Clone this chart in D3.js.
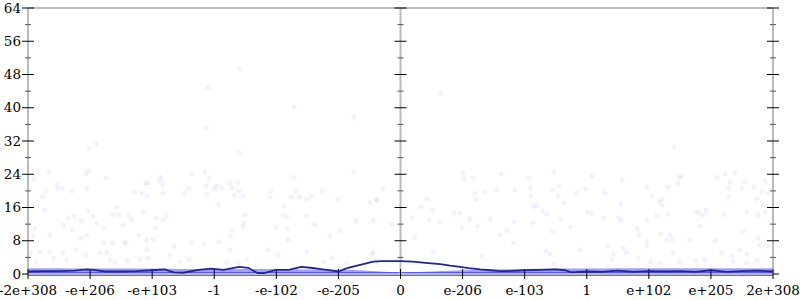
<!DOCTYPE html>
<html lang="en">
<head>
<script src="https://cdnjs.cloudflare.com/ajax/libs/d3/7.8.5/d3.min.js"></script>
<style>
  body { margin: 0; background: #fff; }
  svg { display: block; }
  text { font-family: "DejaVu Serif", serif; font-size: 13.5px; fill: #000; }
</style>
</head>
<body>
<svg width="800" height="300"></svg>
<script>
// x positions are in "tick units": -6 .. 6, one unit per labelled tick
const xTickLabels = ["-2e+308", "-e+206", "-e+103", "-1", "-e-102", "-e-205", "0",
                     "e-206", "e-103", "1", "e+102", "e+205", "2e+308"];
const yMajor = [0, 8, 16, 24, 32, 40, 48, 56, 64];
const yMinor = [4, 12, 20, 28, 36, 44, 52, 60];

// sparse samples [x, value]
const samples = [
  [-5.02,30.1],[-4.90,31.3],[-6.0,25.5],[-5.66,24.5],[-5.90,22.9],[-5.07,24.1],[-5.02,24.8],[-4.74,23.1],
  [-5.71,20.0],[-5.53,21.4],[-5.53,20.5],[-5.45,20.7],[-5.29,20.0],[-5.05,20.5],[-5.76,18.5],[-4.28,19.7],
  [-4.16,19.5],[-4.10,21.9],[-4.07,21.9],[-4.08,18.8],[-3.86,23.3],[-3.89,22.4],[-3.83,21.4],[-3.83,19.5],
  [-3.47,19.5],[-3.41,20.5],[-3.36,24.1],
  [-1.72,40.2],[-0.75,37.8],[-3.12,35.1],[-2.60,29.1],[-3.15,24.5],[-3.08,23.1],[-1.72,23.3],[-0.75,24.5],
  [-3.13,21.2],[-2.96,21.2],[-2.99,20.5],[-2.88,20.7],[-2.75,21.9],[-2.62,21.9],[-2.71,20.7],[-2.60,20.0],
  [-3.12,19.2],[-2.68,19.0],[-2.54,18.8],[-2.09,20.0],[-1.70,20.0],[-1.26,20.0],[-0.28,20.5],[-2.10,18.5],
  [-1.76,18.5],[-1.63,18.5],[-1.44,18.8],[-1.51,18.0],[-1.01,18.0],[-0.39,18.0],[-2.59,49.3],[-3.10,44.8],
  [1.01,24.3],[1.02,22.9],[1.17,23.1],[1.62,24.1],[2.07,23.1],[2.47,24.5],[3.08,23.6],[1.20,19.5],
  [1.36,19.7],[1.55,20.2],[1.84,20.2],[2.09,20.7],[2.55,21.2],[2.44,20.2],[2.83,19.5],[2.99,20.5],
  [2.10,18.8],[2.54,18.8],[0.43,18.0],[1.22,18.0],[0.64,43.5],
  [4.41,30.6],[3.57,22.6],[4.49,23.3],[4.53,23.6],[5.10,23.3],[5.23,24.1],[5.39,24.3],[5.31,22.1],
  [5.55,22.1],[5.87,22.4],[3.29,19.5],[3.97,20.9],[4.05,18.8],[4.31,20.9],[4.47,21.9],[5.28,20.5],
  [5.50,20.5],[5.69,20.9],[5.82,19.7],[5.92,19.5],[4.21,18.0],[5.28,18.5],[5.74,18.0],
  [-5.73,15.4],[-5.89,10.8],[-5.65,9.4],[-5.43,11.8],[-5.35,13.4],[-5.26,14.0],[-5.28,10.6],[-5.14,12.8],
  [-5.05,9.4],[-5.15,8.6],[-4.95,14.0],[-5.03,15.2],[-4.89,12.2],[-4.78,11.0],[-4.63,14.2],[-4.53,14.2],
  [-4.57,16.0],[-4.47,11.8],[-4.33,13.0],[-4.21,9.4],[-4.45,7.5],[-4.42,7.5],[-4.09,8.2],[-3.98,8.3],
  [-3.95,11.0],[-3.82,13.0],[-3.77,14.2],[-3.65,6.6],[-3.36,7.5],[-5.81,5.4],[-5.65,5.4],[-5.43,5.1],
  [-5.23,5.9],[-5.07,4.6],[-4.84,5.1],[-4.73,5.1],[-4.68,3.5],[-4.60,2.7],[-4.39,3.2],[-4.20,3.5],
  [-4.08,5.9],[-4.06,3.8],[-3.71,4.6],[-3.55,3.0],[-3.40,3.5],[-5.59,3.8],[-5.38,3.4],[-5.97,5.0],
  [-5.92,9.0],[-4.63,7.4],[-4.78,7.5],[-4.38,14.2],[-4.14,15.0],[-3.93,13.4],[-5.87,3.0],
  [-2.93,16.6],[-1.88,16.4],[-1.89,14.2],[-1.83,13.8],[-1.51,14.0],[-2.50,14.2],[-2.52,12.2],[-2.54,11.4],
  [-2.70,10.4],[-2.74,9.1],[-2.01,11.2],[-1.82,10.8],[-1.38,12.0],[-0.97,10.4],[-1.14,9.1],[-0.72,12.8],
  [-0.44,12.8],[-0.14,12.0],[-0.49,17.2],[-0.38,17.8],[-3.17,7.2],[-2.92,7.8],[-2.74,5.9],[-2.13,5.9],
  [-1.81,8.3],[-1.51,5.4],[-1.97,4.6],[-1.24,3.0],[-1.11,4.0],[-0.87,2.7],[-0.46,4.8],[-0.44,5.1],
  [-2.80,2.7],[-2.61,2.7],[-2.48,3.5],[-0.39,3.2],[-0.04,3.2],
  [0.18,13.6],[0.33,16.2],[0.52,15.4],[0.86,14.7],[0.95,14.7],[0.63,12.6],[0.46,13.0],[0.23,8.8],
  [1.11,13.2],[1.45,13.2],[0.99,11.2],[1.24,11.4],[1.60,9.4],[1.72,10.4],[1.82,7.5],[1.83,12.6],
  [2.13,12.3],[2.14,16.2],[2.19,16.4],[2.29,15.2],[2.36,14.4],[2.57,13.2],[2.45,10.2],[2.63,17.0],
  [2.74,11.4],[2.89,5.9],[3.01,15.0],[3.08,14.6],[0.53,5.4],[2.34,5.6],[2.41,4.8],[1.31,4.2],[2.47,2.6],
  [3.55,16.8],[4.21,16.6],[4.31,14.4],[4.17,17.4],[4.77,15.0],[4.81,14.6],[4.92,15.4],[4.88,14.2],
  [5.21,14.4],[5.58,15.0],[5.76,14.2],[5.87,15.0],[5.84,16.8],[3.27,13.4],[3.52,13.6],[3.55,12.8],
  [4.13,14.0],[3.97,13.0],[4.82,11.4],[4.34,9.4],[4.29,8.2],[4.37,8.2],[4.19,9.6],[3.81,10.8],
  [3.85,9.4],[3.33,6.6],[3.59,6.2],[3.64,5.1],[3.43,4.8],[3.40,3.5],[3.97,7.8],[3.97,6.6],
  [4.66,8.2],[5.07,8.0],[5.52,10.2],[5.76,8.6],[5.78,7.0],[5.17,5.0],[5.46,5.8],[5.58,4.8],
  [5.34,4.3],[4.38,5.1],[4.76,3.2],[4.90,3.5],[4.18,2.7],[4.50,3.0],[5.36,3.0],[5.58,2.6],
  [5.74,3.2],[4.03,3.0],[3.83,3.8],[5.92,6.6]
];

// dense cluster of low samples near zero: upper edge of the band
const bandX   = [-6, -5.5, -5, -4.5, -4, -3.5, -3, -2.5, -2, -1.5, -1, -0.5, 0, 0.5, 1, 1.5, 2, 2.5, 3, 3.5, 4, 4.5, 5, 5.5, 6];
const bandTop = [1.4, 1.4, 1.3, 1.3, 1.3, 1.2, 1.2, 1.2, 1.2, 1.1, 1.0, 0.8, 0.4, 0.6, 0.9, 1.1, 1.2, 1.3, 1.3, 1.4, 1.4, 1.4, 1.4, 1.4, 1.4];

// running average
const avgX = [-6, -5.75, -5.5, -5.25, -5.05, -4.95, -4.75, -4.5, -4.25, -4, -3.8, -3.65, -3.5, -3.25, -3.05,
              -2.85, -2.6, -2.45, -2.3, -2.2, -2, -1.8, -1.6, -1.45, -1.25, -1.0, -0.86, -0.65, -0.44, -0.3,
              0, 0.2, 0.4, 0.64, 0.8, 0.96, 1.1, 1.28, 1.45, 1.6, 1.75, 2.0, 2.25, 2.5, 2.65, 2.75,
              3.0, 3.25, 3.5, 3.75, 4.0, 4.25, 4.5, 4.75, 5.0, 5.25, 5.5, 5.75, 6];
const avgY = [0.6, 0.7, 0.7, 0.8, 1.1, 1.0, 0.6, 0.6, 0.7, 0.9, 1.1, 0.4, 0.3, 1.0, 1.3,
              1.0, 1.7, 1.5, 0.2, 0.2, 1.0, 1.0, 1.7, 1.5, 1.1, 0.6, 1.4, 2.2, 3.0, 3.1,
              3.1, 3.0, 2.7, 2.4, 2.0, 1.7, 1.4, 1.1, 0.9, 0.7, 0.7, 0.9, 1.0, 1.1, 0.9, 0.4,
              0.6, 0.5, 0.8, 0.5, 0.7, 0.6, 0.7, 0.5, 0.9, 0.5, 0.7, 0.8, 0.6];

const svg = d3.select("svg");
const x = d3.scaleLinear().domain([-6, 6]).range([28, 773]);
const y = d3.scaleLinear().domain([0, 64]).range([274, 8]);

const gray = "#bbb";
svg.append("line").attr("x1", x(-6)).attr("x2", x(6)).attr("y1", y(64)).attr("y2", y(64))
  .attr("stroke", gray).attr("stroke-width", 2);

// band of dense points
const bandData = bandX.map((d, i) => [d, bandTop[i]]);
svg.append("path")
  .datum(bandData)
  .attr("fill", "#5050ff").attr("fill-opacity", 0.55)
  .attr("d", d3.area().x(d => x(d[0])).y0(y(-0.4)).y1(d => y(d[1])).curve(d3.curveMonotoneX));
svg.append("path")
  .datum(bandData)
  .attr("fill", "#1818e8").attr("fill-opacity", 0.7)
  .attr("d", d3.area().x(d => x(d[0])).y0(y(-0.4)).y1(d => y(Math.min(d[1], 0.4))));

// scatter
svg.append("g").selectAll("circle")
  .data(samples)
  .join("circle")
  .attr("cx", d => x(d[0]))
  .attr("cy", d => y(d[1]))
  .attr("r", 2.5)
  .attr("fill", "#0000ff")
  .attr("fill-opacity", 0.05);

// vertical axes at left, zero and right
[-6, 0, 6].forEach(pos => {
  const g = svg.append("g").attr("transform", `translate(${x(pos)},0)`);
  g.append("line").attr("y1", y(0)).attr("y2", y(64)).attr("stroke", gray).attr("stroke-width", 2);
  g.selectAll(".minor").data(yMinor).join("line")
    .attr("x1", -3).attr("x2", 3).attr("y1", d => y(d)).attr("y2", d => y(d))
    .attr("stroke", "#555").attr("stroke-width", 1);
  g.selectAll(".major").data(yMajor).join("line")
    .attr("x1", -6).attr("x2", 6).attr("y1", d => y(d)).attr("y2", d => y(d))
    .attr("stroke", "#000").attr("stroke-width", 1);
  if (pos === -6) {
    g.selectAll("text").data(yMajor).join("text")
      .attr("x", -7).attr("y", d => y(d)).attr("dy", "0.35em")
      .attr("text-anchor", "end").text(d => d);
  }
});

// x axis
const xa = svg.append("g");
xa.append("line").attr("x1", x(-6)).attr("x2", x(6)).attr("y1", y(0)).attr("y2", y(0))
  .attr("stroke", gray).attr("stroke-width", 2);
xa.selectAll(".tick").data(xTickLabels).join("line")
  .attr("x1", (d, i) => x(i - 6)).attr("x2", (d, i) => x(i - 6))
  .attr("y1", y(0) - 5).attr("y2", y(0) + 5)
  .attr("stroke", "#000");
xa.selectAll("text").data(xTickLabels).join("text")
  .attr("x", (d, i) => x(i - 6)).attr("y", 295)
  .attr("text-anchor", "middle").text(d => d);

// average line
svg.append("path")
  .datum(avgX.map((d, i) => [d, avgY[i]]))
  .attr("fill", "none").attr("stroke", "#24249a").attr("stroke-width", 1.8)
  .attr("d", d3.line().x(d => x(d[0])).y(d => y(d[1])));
</script>
</body>
</html>
